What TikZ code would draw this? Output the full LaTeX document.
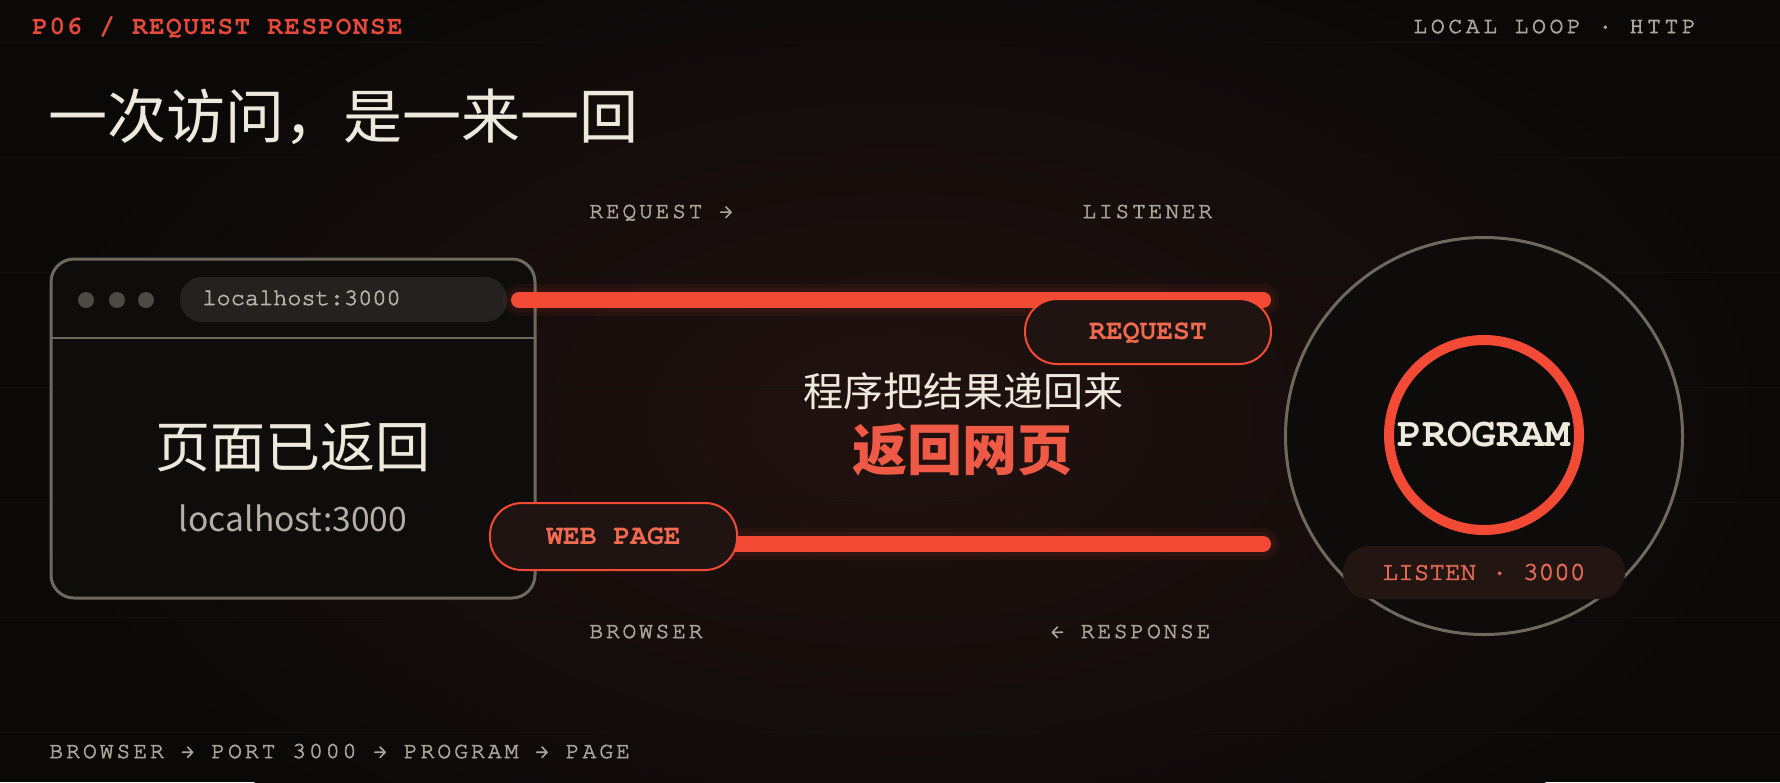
\documentclass[tikz,border=0pt]{standalone}
\usepackage{fontspec}
\newfontfamily\cjk{Noto Sans CJK SC}
\newfontfamily\monof[Extension=.otf,UprightFont=*-regular,BoldFont=*-bold,LetterSpace=12,FakeBold=2.5]{texgyrecursor}
\newfontfamily\monofoot[Extension=.otf,UprightFont=*-regular,BoldFont=*-bold,LetterSpace=13,FakeBold=2.5]{texgyrecursor}
\newfontfamily\monoloop[Extension=.otf,UprightFont=*-regular,BoldFont=*-bold,LetterSpace=16,FakeBold=3]{texgyrecursor}
\newfontfamily\monohead[Extension=.otf,UprightFont=*-regular,BoldFont=*-bold,LetterSpace=5.8]{texgyrecursor}
\newfontfamily\monoplain[Extension=.otf,UprightFont=*-regular,BoldFont=*-bold]{texgyrecursor}
\newfontfamily\monomed[Extension=.otf,UprightFont=*-regular,BoldFont=*-bold,FakeBold=2.5]{texgyrecursor}
\definecolor{bg}{HTML}{0A0908}
\definecolor{gridc}{HTML}{13110E}
\definecolor{barred}{HTML}{F24A35}
\definecolor{headred}{HTML}{E5493A}
\definecolor{pilltext}{HTML}{F26B50}
\definecolor{cream}{HTML}{EEE9DD}
\definecolor{lblgray}{HTML}{A9A498}
\definecolor{framegray}{HTML}{6F685D}
\definecolor{dotgray}{HTML}{4D4943}
\definecolor{urlfill}{HTML}{24221F}
\definecolor{winfill}{HTML}{0E0D0B}
\definecolor{pillfill}{HTML}{201412}
\definecolor{listenfill}{HTML}{231512}
\definecolor{listentext}{HTML}{E36B55}
\definecolor{subgray}{HTML}{B5B0A6}
\definecolor{glowc}{HTML}{221210}
\definecolor{ringfill}{HTML}{0D0C0A}
\definecolor{retred}{HTML}{EE5A45}
\begin{document}
\begin{tikzpicture}[x=0.5pt,y=-0.5pt,
  lbl/.style={font={\monof\fontsize{11.5}{14}\selectfont}, text=lblgray, inner sep=0pt, anchor=base west},
  bar/.style={line width=8pt, line cap=round, draw=barred},
  barglow/.style={line width=#1, line cap=round, draw=barred, draw opacity=0.06},
  pill/.style={draw=barred, line width=1pt, fill=pillfill, rounded corners=16pt, text=pilltext,
    font={\monoplain\bfseries\fontsize{14}{16}\selectfont}, text height=7.98pt, text depth=0pt, inner sep=0pt},
]
\useasboundingbox (0,0) rectangle (1780,782);
\fill[bg] (0,0) rectangle (1780,782);
% central glow
\shade[inner color=glowc, outer color=bg] (900,420) ellipse [x radius=900, y radius=520];
% faint grid lines
\foreach \yy in {42,157,272,387,502,617,732}
  \draw[gridc, line width=0.5pt] (0,\yy) -- (1780,\yy);

% header texts
\node[inner sep=0pt, anchor=base west, text=headred, font={\monohead\bfseries\fontsize{13}{15}\selectfont}] (hdr) at (32,34) {P06 / REQUEST RESPONSE};
\node[lbl, font={\monoloop\fontsize{11.5}{14}\selectfont}] (loop) at (1413,33) {LOCAL LOOP · HTTP};
\node[inner sep=0pt, anchor=base west, text=cream, font={\cjk\fontsize{29.5}{32}\selectfont}] (title) at (48,138) {一次访问，是一来一回};

% lane labels
\node[lbl] (lreq) at (589,218) {REQUEST →};
\node[lbl] (llis) at (1082,218) {LISTENER};
\node[lbl] (lbro) at (589,638) {BROWSER};
\node[lbl] (lres) at (1050,638) {← RESPONSE};
\node[lbl, font={\monofoot\fontsize{11.5}{14}\selectfont}] (foot) at (49,758) {BROWSER → PORT 3000 → PROGRAM → PAGE};

% browser window
\draw[framegray, line width=1.5pt, fill=winfill, rounded corners=11.5pt] (51,259) rectangle (535,598);
\draw[framegray, line width=1.2pt] (52,338) -- (534,338);
\foreach \xx in {86,117,146} \fill[dotgray] (\xx,300) circle [radius=4pt];
\node[fill=urlfill, rounded corners=11pt, minimum width=163.5pt, minimum height=22.5pt, inner sep=0pt] (url) at (343.5,299.5) {};
\node[inner sep=0pt, anchor=base west, text=subgray, font={\monomed\fontsize{11.8}{13}\selectfont}] (urltext) at (202,305) {localhost:3000};
\node[inner sep=0pt, anchor=base, text=cream, font={\cjk\fontsize{27.5}{30}\selectfont}] (done) at (293,467) {页面已返回};
\node[inner sep=0pt, anchor=base, text=subgray, font={\cjk\fontsize{16.8}{20}\selectfont}] (host) at (293,531) {localhost:3000};

% connectors
\coordinate (reqstart) at (519,300);
\coordinate (reqend) at (1263,300);
\coordinate (resstart) at (735,544);
\coordinate (resend) at (1263,544);
\foreach \w in {16pt,12pt} {
  \draw[barglow=\w] (reqstart) -- (reqend);
  \draw[barglow=\w] (resstart) -- (resend);
}
\draw[bar] (reqstart) -- (reqend);
\draw[bar] (resstart) -- (resend);

% pills
\node[pill, minimum width=123pt, minimum height=32.5pt] (req) at (1148,331.5) {REQUEST};
\node[pill, minimum width=123.5pt, minimum height=33.5pt] (web) at (613.5,536.5) {WEB PAGE};

% centre text
\node[inner sep=0pt, anchor=base, text=cream, font={\cjk\fontsize{20}{24}\selectfont}] (back) at (963,406) {程序把结果递回来};
\node[inner sep=0pt, anchor=base, text=retred, font={\cjk\bfseries\fontsize{27.5}{30}\selectfont}] (ret) at (962,470) {返回网页};

% program
\node[circle, draw=framegray, line width=1.5pt, fill=ringfill, minimum size=198.5pt, inner sep=0pt] (outer) at (1484,436) {};
\node[circle, draw=barred, line width=5pt, minimum size=95pt, inner sep=0pt, text=cream,
  font={\monoplain\bfseries\fontsize{20.5}{22}\selectfont}, text height=11.4pt, text depth=0pt] (prog) at (1484,435) {PROGRAM};
\node[fill=listenfill, rounded corners=13pt, minimum width=141pt, minimum height=26.5pt, inner sep=0pt,
  text=listentext, font={\monomed\fontsize{13}{15}\selectfont}, text height=7.4pt, text depth=0pt] (listen) at (1484,572.5) {LISTEN · 3000};
\end{tikzpicture}
\end{document}
